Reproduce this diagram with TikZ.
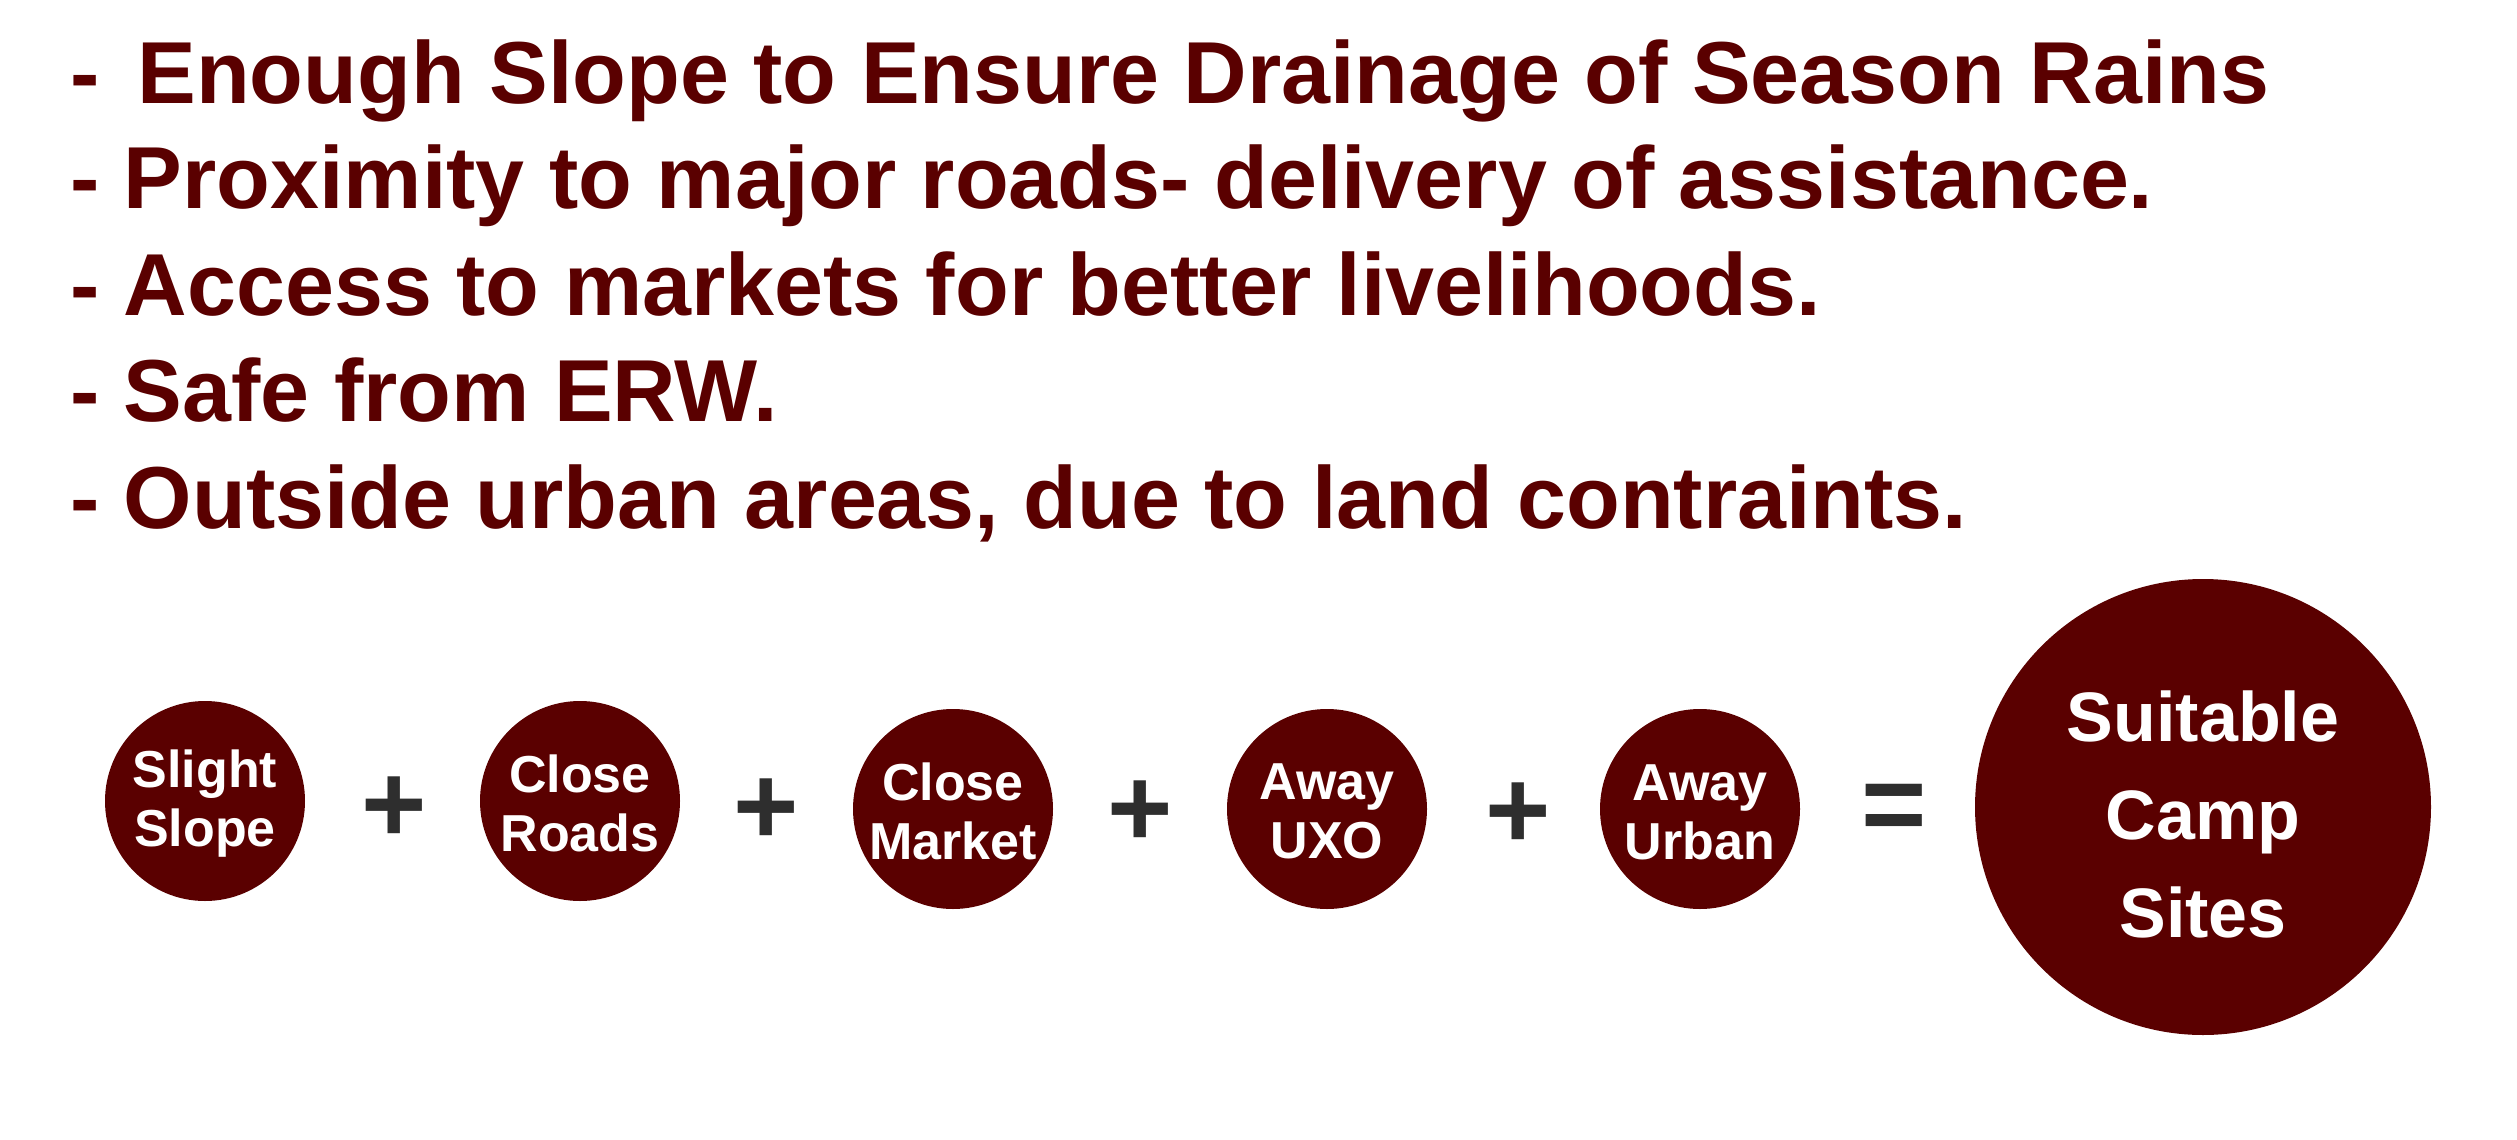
\documentclass[tikz,border=0pt]{standalone}
\usepackage{fontspec}
\setmainfont{Liberation Sans}
\definecolor{maroon}{HTML}{5A0000}
\definecolor{opgrey}{HTML}{2E2E2E}
\begin{document}
\begin{tikzpicture}[x=1pt,y=-1pt,
  headline/.style={anchor=base west,inner sep=0pt,text=maroon,font=\fontsize{88}{106}\selectfont\bfseries},
  factor/.style={circle,fill=maroon,minimum size=200pt,inner sep=0pt},
  factortext/.style={inner sep=0pt,text=white,align=center,font=\fontsize{52}{59}\selectfont\bfseries},
  result/.style={circle,fill=maroon,minimum size=456pt,inner sep=0pt},
  resulttext/.style={inner sep=0pt,text=white,align=center,font=\fontsize{70}{98}\selectfont\bfseries},
  op/.style={anchor=base,inner sep=0pt,text=opgrey,font=\fontsize{112}{112}\selectfont\bfseries}]
\useasboundingbox[fill=white] (0,0) rectangle (2517,1140);
\node[headline] (l1) at (70,103) {-\hspace{38pt}Enough Slope to Ensure Drainage of Season Rains};
\node[headline] (l2) at (70,208) {- Proximity to major roads- delivery of assistance.};
\node[headline] (l3) at (70,315) {- Access to markets for better livelihoods.};
\node[headline] (l4) at (70,421) {- Safe from ERW.};
\node[headline] (l5) at (70,528) {- Outside urban areas, due to land contraints.};
\node[factor] (c1) at (205,801) {};
\node[factor] (c2) at (580,801) {};
\node[factor] (c3) at (953,809) {};
\node[factor] (c4) at (1327,809) {};
\node[factor] (c5) at (1700,809) {};
\node[factortext] (t1) at (205,804) {Slight\\Slope};
\node[factortext] (t2) at (580,803) {Close\\Roads};
\node[factortext] (t3) at (953,811) {Close\\Market};
\node[factortext] (t4) at (1327,811) {Away\\UXO};
\node[factortext] (t5) at (1700,812) {Away\\Urban};
\node[result] (r) at (2203,807) {};
\node[resulttext] (rt) at (2203,814) {Suitable\\Camp\\Sites};
\node[op] (p1) at (394,842) {+};
\node[op] (p2) at (766,844) {+};
\node[op] (p3) at (1140,846) {+};
\node[op] (p4) at (1518,848) {+};
\node[op] (eq) at (1894,842) {=};
\end{tikzpicture}
\end{document}
